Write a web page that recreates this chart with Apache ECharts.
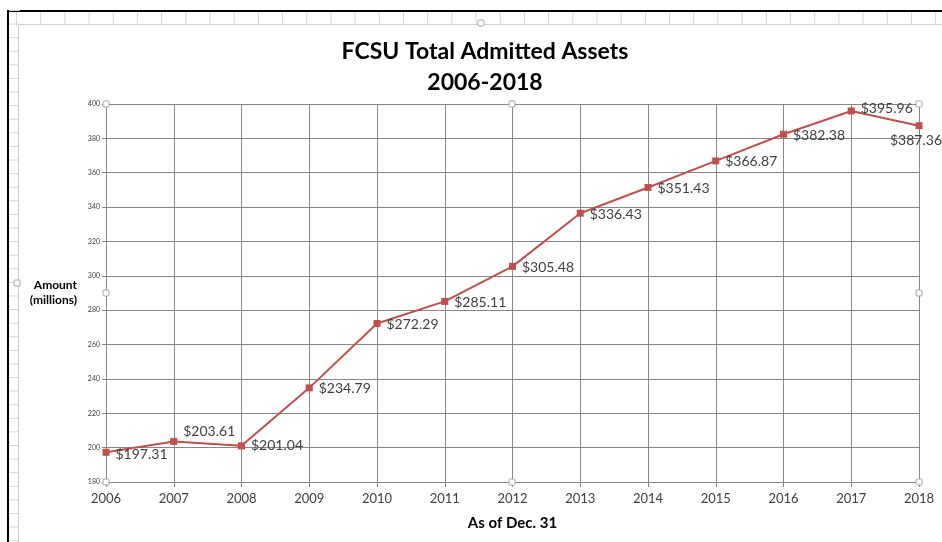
<!DOCTYPE html>
<html>
<head>
<meta charset="utf-8">
<script src="https://cdn.jsdelivr.net/npm/echarts@6/dist/echarts.min.js"></script>
<style>
  html, body { margin: 0; padding: 0; width: 942px; height: 542px; overflow: hidden; background: #fff; }
  .sheet-top { position: absolute; left: 7px; top: 10px; width: 935px; height: 14px;
    border-top: 2px solid #000;
    background-image: linear-gradient(to right, #d4d4d4 1px, transparent 1px);
    background-size: 24.2px 100%; background-position: 9px 0; }
  .sheet-left { position: absolute; left: 7px; top: 10px; width: 11px; height: 532px;
    border-left: 2px solid #000;
    background-image: linear-gradient(to bottom, #d4d4d4 1px, transparent 1px);
    background-size: 100% 13.6px; }
  .chart-box { position: absolute; left: 18px; top: 24px; width: 930px; height: 530px;
    background: #fff; border: 1px solid #d0d0d0; }
  #chart { position: absolute; left: 0; top: 0; width: 942px; height: 542px; }
</style>
</head>
<body>
<div class="sheet-top"></div>
<div class="sheet-left"></div>
<div class="chart-box"></div>
<div id="chart"></div>
<script>
const years = ['2006', '2007', '2008', '2009', '2010', '2011', '2012', '2013', '2014', '2015', '2016', '2017', '2018'];
const assets = [197.31, 203.61, 201.04, 234.79, 272.29, 285.11, 305.48, 336.43, 351.43, 366.87, 382.38, 395.96, 387.36];
const labelSpots = ['right', 'right', 'right', 'right', 'right', 'right', 'right', 'right', 'right', 'right', 'right', 'right', 'bottom'];
const labelShift = [[0, 2], [0, -10], [0, 0], [0, 1], [0, 1], [0, 1], [0, 1], [0, 1], [0, 1], [0, 1], [0, 1], [0, -2], [-3, -2]];

const font = 'Lato, "Open Sans", sans-serif';
const chart = echarts.init(document.getElementById('chart'), null, { renderer: 'canvas' });

const points = assets.map((v, i) => ({
    value: v,
    label: { position: labelSpots[i], offset: labelShift[i] }
}));

// little selection handles like the Excel screenshot (decoration only)
const handleAt = [[106, 104], [512, 104], [919, 104], [106, 293], [919, 293], [106, 482], [512, 482], [919, 482], [481, 23], [17, 283]];
const handles = handleAt.map(([x, y]) => ({
    type: 'rect',
    shape: { x: x - 3, y: y - 3, width: 6, height: 6, r: 1 },
    style: { fill: '#fff', stroke: '#a6a6a6', lineWidth: 1 },
    z: 100
}));

chart.setOption({
    backgroundColor: 'transparent',
    animation: false,
    title: {
        text: 'FCSU Total Admitted Assets\n2006-2018',
        left: 480,
        top: 31,
        textAlign: 'center',
        textStyle: { fontFamily: font, fontSize: 23, fontWeight: 'bold', color: '#000', lineHeight: 31 }
    },
    grid: { left: 106, right: 23, top: 104, bottom: 60, containLabel: false },
    xAxis: {
        type: 'category',
        data: years,
        boundaryGap: false,
        name: 'As of Dec. 31',
        nameLocation: 'middle',
        nameGap: 34,
        nameTextStyle: { fontFamily: font, fontSize: 15, fontWeight: 'bold', color: '#000' },
        axisLine: { lineStyle: { color: '#878787', width: 1 } },
        axisTick: { show: true, length: 5, alignWithLabel: true, lineStyle: { color: '#878787' } },
        axisLabel: { fontFamily: font, fontSize: 13, color: '#404040', margin: 10 },
        splitLine: { show: true, lineStyle: { color: '#878787', width: 1 } }
    },
    yAxis: {
        type: 'value',
        min: 180,
        max: 400,
        interval: 20,
        name: 'Amount\n(millions)',
        nameLocation: 'middle',
        nameRotate: 0,
        nameGap: 29,
        nameTextStyle: { fontFamily: font, fontSize: 12, fontWeight: 'bold', color: '#000', lineHeight: 15 },
        axisLine: { show: true, lineStyle: { color: '#878787', width: 1 } },
        axisTick: { show: true, length: 4, lineStyle: { color: '#878787' } },
        axisLabel: { fontFamily: font, fontSize: 7, color: '#404040', margin: 6 },
        splitLine: { show: true, lineStyle: { color: '#878787', width: 1 } }
    },
    graphic: handles,
    series: [{
        type: 'line',
        data: points,
        symbol: 'rect',
        symbolSize: 7,
        lineStyle: { color: '#c0504d', width: 2 },
        itemStyle: { color: '#c0504d' },
        label: {
            show: true,
            fontFamily: font,
            fontSize: 14,
            color: '#404040',
            distance: 6,
            formatter: p => '$' + p.value.toFixed(2)
        }
    }]
});
</script>
</body>
</html>
